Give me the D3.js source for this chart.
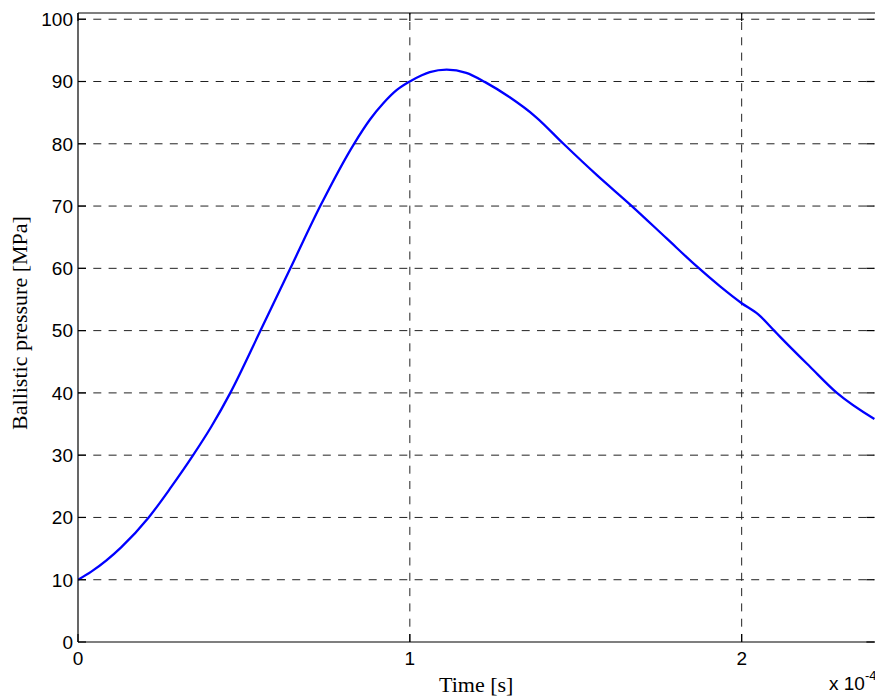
<!DOCTYPE html>
<html>
<head>
<meta charset="utf-8">
<script src="https://cdn.jsdelivr.net/npm/d3@7"></script>
<style>
    body { margin: 0; background: #fff; }
    .tick-label { font-family: "Liberation Sans", Arial, sans-serif; font-size: 19px; fill: #000; }
    .axis-title { font-family: "Liberation Serif", "Times New Roman", serif; font-size: 22px; fill: #000; }
</style>
</head>
<body>
<div id="chart"></div>
<script>
// time in units of 1e-4 s, pressure in MPa
const timeE4 = [0, 0.04, 0.13, 0.213, 0.281, 0.347, 0.402, 0.459, 0.55, 0.64, 0.73, 0.832, 0.88, 0.92, 0.96,
    1.0, 1.036, 1.06, 1.111, 1.17, 1.227, 1.3, 1.38, 1.463, 1.563, 1.669, 1.774, 1.865, 1.935,
    2.0, 2.05, 2.098, 2.116, 2.206, 2.287, 2.4];
const pressure = [10, 11.3, 15.2, 20, 24.9, 30, 34.6, 40, 50, 60, 70, 80, 83.9, 86.5, 88.6,
    90, 91.0, 91.5, 91.9, 91.4, 89.9, 87.5, 84.3, 80, 75.0, 70, 64.8, 60.3, 57.1,
    54.4, 52.6, 50, 49.0, 44.2, 40, 35.8];

const xTicks = [0, 1, 2];
const yTicks = [0, 10, 20, 30, 40, 50, 60, 70, 80, 90, 100];
const timeExponent = '-4';

class PressureVis {

    constructor(parentElement) {
        this.parentElement = parentElement;
        this.data = timeE4.map((t, i) => ({t: t, p: pressure[i]}));
        this.initVis();
    }

    initVis() {
        let vis = this;

        vis.totalWidth = 875;
        vis.totalHeight = 698;
        vis.left = 78;
        vis.right = 874.4;
        vis.top = 13;
        vis.bottom = 642;

        vis.svg = d3.select('#' + vis.parentElement).append('svg')
            .attr('width', vis.totalWidth)
            .attr('height', vis.totalHeight);

        vis.x = d3.scaleLinear().domain([0, 2.4]).range([vis.left, vis.right]);
        vis.y = d3.scaleLinear().domain([0, 101]).range([vis.bottom, vis.top]);

        // grid
        vis.grid = vis.svg.append('g')
            .style('stroke', '#222')
            .style('stroke-width', 1)
            .style('stroke-dasharray', '8,7.3');

        vis.grid.selectAll('.hgrid')
            .data(yTicks.filter(d => d > 0))
            .enter()
            .append('line')
            .attr('class', 'hgrid')
            .attr('x1', vis.left)
            .attr('x2', vis.right)
            .attr('y1', d => vis.y(d))
            .attr('y2', d => vis.y(d));

        vis.grid.selectAll('.vgrid')
            .data(xTicks.filter(d => d > 0))
            .enter()
            .append('line')
            .attr('class', 'vgrid')
            .attr('x1', d => vis.x(d))
            .attr('x2', d => vis.x(d))
            .attr('y1', vis.bottom)
            .attr('y2', vis.top);

        // curve
        vis.svg.append('clipPath')
            .attr('id', 'plot-clip')
            .append('rect')
            .attr('x', vis.left)
            .attr('y', vis.top)
            .attr('width', vis.right - vis.left + 2)
            .attr('height', vis.bottom - vis.top);

        let line = d3.line()
            .x(d => vis.x(d.t))
            .y(d => vis.y(d.p))
            .curve(d3.curveMonotoneX);

        vis.svg.append('path')
            .datum(vis.data)
            .attr('clip-path', 'url(#plot-clip)')
            .attr('fill', 'none')
            .attr('stroke', '#0000ff')
            .attr('stroke-width', 2.3)
            .attr('d', line);

        // axes box (right side falls off the picture)
        let frame = vis.svg.append('g')
            .style('stroke', '#000')
            .style('stroke-width', 1.2);

        frame.append('line')
            .attr('x1', vis.left).attr('x2', vis.totalWidth)
            .attr('y1', vis.top).attr('y2', vis.top);
        frame.append('line')
            .attr('x1', vis.left).attr('x2', vis.totalWidth)
            .attr('y1', vis.bottom).attr('y2', vis.bottom);
        frame.append('line')
            .attr('x1', vis.left).attr('x2', vis.left)
            .attr('y1', vis.top).attr('y2', vis.bottom);

        // inward ticks
        let tickLen = 8;
        frame.selectAll('.ytick-l')
            .data(yTicks)
            .enter()
            .append('line')
            .attr('x1', vis.left).attr('x2', vis.left + tickLen)
            .attr('y1', d => vis.y(d)).attr('y2', d => vis.y(d));
        frame.selectAll('.ytick-r')
            .data(yTicks)
            .enter()
            .append('line')
            .attr('x1', vis.right).attr('x2', vis.right - tickLen)
            .attr('y1', d => vis.y(d)).attr('y2', d => vis.y(d));
        frame.selectAll('.xtick-b')
            .data(xTicks)
            .enter()
            .append('line')
            .attr('x1', d => vis.x(d)).attr('x2', d => vis.x(d))
            .attr('y1', vis.bottom).attr('y2', vis.bottom - tickLen);
        frame.selectAll('.xtick-t')
            .data(xTicks)
            .enter()
            .append('line')
            .attr('x1', d => vis.x(d)).attr('x2', d => vis.x(d))
            .attr('y1', vis.top).attr('y2', vis.top + tickLen);

        // tick labels
        vis.svg.selectAll('.ylabel')
            .data(yTicks)
            .enter()
            .append('text')
            .attr('class', 'tick-label')
            .attr('x', vis.left - 5)
            .attr('y', d => vis.y(d))
            .attr('dy', '0.36em')
            .attr('text-anchor', 'end')
            .text(d => d);

        vis.svg.selectAll('.xlabel')
            .data(xTicks)
            .enter()
            .append('text')
            .attr('class', 'tick-label')
            .attr('x', d => vis.x(d))
            .attr('y', vis.bottom + 23)
            .attr('text-anchor', 'middle')
            .text(d => d);

        // exponent
        let expo = vis.svg.append('text')
            .attr('class', 'tick-label')
            .attr('x', 829)
            .attr('y', 690);
        expo.append('tspan').text('x 10');
        expo.append('tspan')
            .attr('dy', -10)
            .style('font-size', '13px')
            .text(timeExponent);

        // axis titles
        vis.svg.append('text')
            .attr('class', 'axis-title')
            .attr('x', (vis.left + vis.right) / 2)
            .attr('y', 692)
            .attr('text-anchor', 'middle')
            .text('Time [s]');

        vis.svg.append('text')
            .attr('class', 'axis-title')
            .attr('transform', 'translate(27, 323) rotate(-90)')
            .attr('text-anchor', 'middle')
            .text('Ballistic pressure [MPa]');
    }
}

new PressureVis('chart');
</script>
</body>
</html>
